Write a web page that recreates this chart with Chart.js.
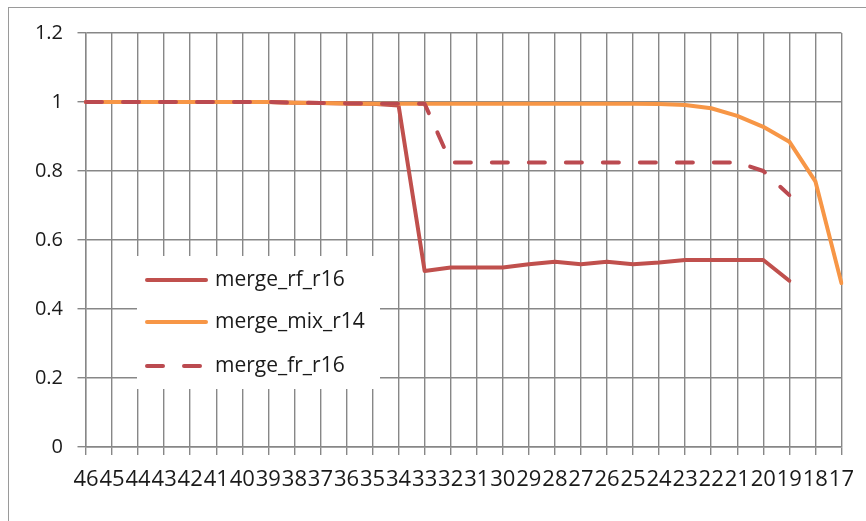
<!DOCTYPE html>
<html>
<head>
<meta charset="utf-8">
<script src="https://cdn.jsdelivr.net/npm/chart.js@4.4.0/dist/chart.umd.min.js"></script>
<style>
  html, body { margin: 0; padding: 0; background: #fff; }
  #chart { display: block; }
</style>
</head>
<body>
<canvas id="chart" width="866" height="521"></canvas>
<script>
// categories run from 46 down to 17
const categories = ['46', '45', '44', '43', '42', '41', '40', '39', '38', '37', '36', '35', '34', '33', '32',
  '31', '30', '29', '28', '27', '26', '25', '24', '23', '22', '21', '20', '19', '18', '17'];

const mergeRfR16 = [1, 1, 1, 1, 1, 1, 1, 1, 0.998, 0.997, 0.996, 0.995, 0.99, 0.51, 0.52,
  0.52, 0.52, 0.53, 0.537, 0.53, 0.537, 0.53, 0.535, 0.542, 0.542, 0.542, 0.542, 0.482, null, null];

const mergeMixR14 = [1, 1, 1, 1, 1, 1, 1, 1, 0.998, 0.997, 0.996, 0.995, 0.995, 0.995, 0.995,
  0.995, 0.995, 0.995, 0.995, 0.995, 0.995, 0.995, 0.994, 0.991, 0.982, 0.96, 0.928, 0.885, 0.77, 0.475];

const mergeFrR16 = [1, 1, 1, 1, 1, 1, 1, 1, 0.998, 0.997, 0.996, 0.995, 0.995, 0.995, 0.825,
  0.825, 0.825, 0.825, 0.825, 0.825, 0.825, 0.825, 0.825, 0.825, 0.825, 0.825, 0.8, 0.73, null, null];

const seriesNames = ['merge_rf_r16', 'merge_mix_r14', 'merge_fr_r16'];
const yTicks = [0, 0.2, 0.4, 0.6, 0.8, 1, 1.2];

const FONT = "'Open Sans', sans-serif";
const TEXT = '#1a1a1a';
const GRID = '#878787';

// white page + the thin gray frame round the chart
const framePlugin = {
  id: 'frame',
  beforeDraw(chart) {
    const ctx = chart.ctx;
    ctx.save();
    ctx.fillStyle = '#fff';
    ctx.fillRect(0, 0, chart.width, chart.height);
    ctx.strokeStyle = '#9a9a9a';
    ctx.lineWidth = 1;
    ctx.strokeRect(8.5, 7.5, chart.width + 20, chart.height + 20);
    ctx.restore();
  }
};

// legend box sitting inside the plot area
const insideLegend = {
  id: 'insideLegend',
  afterDraw(chart) {
    const ctx = chart.ctx;
    ctx.save();
    ctx.fillStyle = '#fff';
    ctx.fillRect(137, 256, 243, 133);
    const rows = [280, 322, 366];
    chart.data.datasets.forEach((ds, i) => {
      const y = rows[i];
      ctx.strokeStyle = ds.borderColor;
      ctx.lineWidth = ds.borderWidth;
      ctx.lineCap = ds.borderCapStyle || 'butt';
      ctx.setLineDash(ds.borderDash || []);
      ctx.beginPath();
      ctx.moveTo(147, y);
      ctx.lineTo(206, y);
      ctx.stroke();
      ctx.setLineDash([]);
      ctx.fillStyle = TEXT;
      ctx.font = '21px ' + FONT;
      ctx.textBaseline = 'middle';
      ctx.fillText(ds.label, 215, y);
    });
    ctx.restore();
  }
};

new Chart(document.getElementById('chart'), {
  type: 'line',
  data: {
    labels: categories,
    datasets: [
      {
        label: seriesNames[0],
        data: mergeRfR16,
        borderColor: '#C0504D',
        borderWidth: 4,
        borderCapStyle: 'round',
        order: 3
      },
      {
        label: seriesNames[1],
        data: mergeMixR14,
        borderColor: '#F79646',
        borderWidth: 4,
        borderCapStyle: 'round',
        order: 2
      },
      {
        label: seriesNames[2],
        data: mergeFrR16,
        borderColor: '#BB4A50',
        borderWidth: 4,
        borderCapStyle: 'round',
        borderDash: [16, 21],
        order: 1
      }
    ]
  },
  options: {
    responsive: false,
    animation: false,
    devicePixelRatio: 1,
    elements: {
      point: { radius: 0, hoverRadius: 0 },
      line: { tension: 0, borderJoinStyle: 'round' }
    },
    layout: {
      padding: { left: 0, right: 18.5, top: 33, bottom: 0 }
    },
    plugins: {
      legend: { display: false },
      tooltip: { enabled: false }
    },
    scales: {
      x: {
        offset: false,
        grid: { color: GRID, lineWidth: 1.4, tickLength: 8, drawTicks: true },
        border: { color: GRID, width: 1.4 },
        ticks: {
          autoSkip: false,
          maxRotation: 0,
          minRotation: 0,
          padding: 12,
          color: TEXT,
          font: { family: FONT, size: 22 }
        },
        afterFit(scale) { scale.height = 74; }
      },
      y: {
        min: 0,
        max: 1.2,
        afterBuildTicks(scale) { scale.ticks = yTicks.map(v => ({ value: v })); },
        grid: { color: GRID, lineWidth: 1.4, tickLength: 8.5, drawTicks: true },
        border: { color: GRID, width: 1.4 },
        ticks: {
          padding: 14.5,
          color: TEXT,
          font: { family: FONT, size: 20 },
          callback: (value) => String(Number(value.toFixed(1)))
        },
        afterFit(scale) { scale.width = 86; }
      }
    }
  },
  plugins: [framePlugin, insideLegend]
});
</script>
</body>
</html>
